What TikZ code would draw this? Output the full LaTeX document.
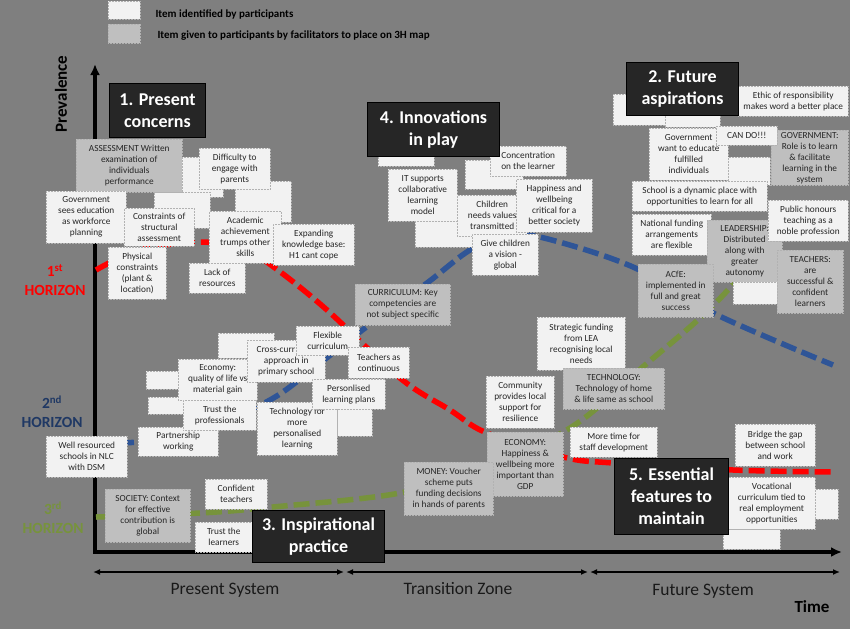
\documentclass[tikz,border=0pt]{standalone}
\usepackage{fontspec}
\setmainfont{Carlito}
\usetikzlibrary{arrows.meta}

\definecolor{bggray}{RGB}{127,127,127}
\definecolor{notewhite}{RGB}{242,242,242}
\definecolor{notegray}{RGB}{191,191,191}
\definecolor{headbg}{RGB}{38,38,38}
\definecolor{hzred}{RGB}{255,0,0}
\definecolor{hzblue}{RGB}{47,85,151}
\definecolor{hzbluetext}{RGB}{31,56,100}
\definecolor{hzgreen}{RGB}{119,147,60}

\begin{document}
\begin{tikzpicture}[x=1pt, y=-1pt,
  note/.style={anchor=north west, inner sep=0pt, align=center, draw=black!30, densely dotted, line width=0.5pt, text=black!85, font=\fontsize{9.3}{11}\selectfont},
  wnote/.style={note, fill=notewhite},
  gnote/.style={note, fill=notegray},
  headbox/.style={anchor=north west, inner sep=0pt, align=center, fill=headbg, draw=black, line width=1pt, text=white, font=\fontsize{18}{22}\selectfont\bfseries},
  hz/.style={align=center, font=\fontsize{15.5}{19}\selectfont\bfseries},
  zonetext/.style={font=\fontsize{17.5}{20}\selectfont, text=black!90},
  trend/.style={line width=5.5pt, dash pattern=on 16pt off 6pt},
  axisline/.style={line width=3.5pt, {Latex[length=11pt,width=10pt]}-{Latex[length=11pt,width=10pt]}},
  zonearrow/.style={line width=1.5pt, {Latex[length=7pt,width=6pt]}-{Latex[length=7pt,width=6pt]}}
]

% --- background ---
\fill[bggray] (0,0) rectangle (850,629);
\useasboundingbox (0,0) rectangle (850,629);

% --- legend ---
\node[wnote, minimum width=32pt, minimum height=18pt] (legw) at (108,1) {};
\node[gnote, minimum width=32pt, minimum height=19pt] (legg) at (108,24) {};
\node[anchor=west, font=\fontsize{11}{13}\selectfont\bfseries] (legwtxt) at (152,14) {Item identified by participants};
\node[anchor=west, font=\fontsize{11}{13}\selectfont\bfseries] (leggtxt) at (154,36) {Item given to participants by facilitators to place on 3H map};

% --- axes and zones ---
\coordinate (ytop) at (95,64);
\coordinate (orig) at (95,552);
\coordinate (xend) at (842,552);
\draw[axisline] (ytop) -- (orig) -- (xend);

\coordinate (zAl) at (93,572);
\coordinate (zAr) at (344,572);
\coordinate (zBl) at (346,572);
\coordinate (zBr) at (588,572);
\coordinate (zCl) at (590,572);
\coordinate (zCr) at (840,572);
\draw[zonearrow] (zAl) -- (zAr);
\draw[zonearrow] (zBl) -- (zBr);
\draw[zonearrow] (zCl) -- (zCr);

\node[zonetext] (present) at (225,590) {Present System};
\node[zonetext] (transition) at (458,589) {Transition Zone};
\node[zonetext] (future) at (703,591) {Future System};
\node[font=\fontsize{17}{20}\selectfont\bfseries] (timelbl) at (812,607) {Time};
\node[rotate=90, font=\fontsize{17}{20}\selectfont\bfseries] (prev) at (61,94) {Prevalence};

% --- horizon labels ---
\node[hz, text=hzred] (hone) at (55,280) {1\textsuperscript{st}\\HORIZON};
\node[hz, text=hzbluetext] (htwo) at (52,412) {2\textsuperscript{nd}\\HORIZON};
\node[hz, text=hzgreen] (hthree) at (53,518) {3\textsuperscript{rd}\\HORIZON};

% --- three horizon curves ---
\draw[trend, hzred] plot[smooth, tension=0.6] coordinates {(96,270) (140,250) (200,242) (245,250) (275,268) (327,310) (400,378) (450,410) (487,433) (563,457) (613,463) (733,470) (833,472)};
\draw[trend, hzblue] plot[smooth, tension=0.6] coordinates {(96,442) (137,442) (200,430) (270,400) (320,363) (373,322) (427,283) (470,250) (505,236) (540,237) (633,267) (713,313) (833,365)};
\draw[trend, hzgreen] plot[smooth, tension=0.6] coordinates {(96,517) (200,513) (273,507) (400,493) (480,468) (570,428) (645,365) (700,318) (735,282) (755,255)};

% --- present concerns ---
\node[wnote, minimum width=56pt, minimum height=40pt] (blankA) at (167,157) {};
\node[wnote, minimum width=56pt, minimum height=36pt] (blankB) at (154,192) {};
\node[wnote, minimum width=56pt, minimum height=41pt] (blankC) at (235,181) {};
\node[gnote, minimum width=106pt, minimum height=53pt] (assess) at (76,139) {ASSESSMENT Written\\examination of\\individuals\\performance};
\node[wnote, minimum width=71pt, minimum height=41pt] (difficulty) at (199,148) {Difficulty to\\engage with\\parents};
\node[wnote, minimum width=80pt, minimum height=52pt] (govsees) at (46,191) {Government\\sees education\\as workforce\\planning};
\node[wnote, minimum width=70pt, minimum height=38pt] (constraints) at (124,208) {Constraints of\\structural\\assessment};
\node[wnote, minimum width=58pt, minimum height=52pt] (physical) at (108,247) {Physical\\constraints\\(plant \&\\location)};
\node[wnote, minimum width=72pt, minimum height=52pt] (academic) at (209,211) {Academic\\achievement\\trumps other\\skills};
\node[wnote, minimum width=81pt, minimum height=41pt] (expanding) at (273,224) {Expanding\\knowledge base:\\H1 cant cope};
\node[wnote, minimum width=56pt, minimum height=30pt] (lackres) at (189,263) {Lack of\\resources};

% --- innovations in play ---
\node[wnote, minimum width=56pt, minimum height=26pt] (blankD) at (378,140) {};
\node[wnote, minimum width=57pt, minimum height=47pt] (blankE) at (415,200) {};
\node[wnote, minimum width=58pt, minimum height=29pt] (blankF) at (465,160) {};
\node[wnote, minimum width=69pt, minimum height=52pt] (itsupports) at (388,169) {IT supports\\collaborative\\learning\\model};
\node[wnote, minimum width=76pt, minimum height=30pt] (concentration) at (490,146) {Concentration\\on the learner};
\node[wnote, minimum width=70pt, minimum height=41pt] (children) at (457,195) {Children\\needs values\\transmitted};
\node[wnote, minimum width=76pt, minimum height=53pt] (happiness) at (516,179) {Happiness and\\wellbeing\\critical for a\\better society};
\node[wnote, minimum width=66pt, minimum height=41pt] (givevision) at (472,234) {Give children\\a vision -\\global};
\node[gnote, minimum width=95pt, minimum height=41pt] (curriculum) at (355,284) {CURRICULUM: Key\\competencies are\\not subject specific};

% --- future aspirations ---
\node[wnote, minimum width=52pt, minimum height=31pt] (blankG) at (613,94) {};
\node[wnote, minimum width=55pt, minimum height=22pt] (blankH) at (665,105) {};
\node[wnote, minimum width=110pt, minimum height=30pt] (ethic) at (738,86) {Ethic of responsibility\\makes word a better place};
\node[wnote, minimum width=79pt, minimum height=52pt] (govwant) at (649,128) {Government\\want to educate\\fulfilled\\individuals};
\node[wnote, minimum width=42pt, minimum height=28pt] (blankI) at (728,157) {};
\node[gnote, minimum width=77pt, minimum height=55pt] (govrole) at (771,130) {GOVERNMENT:\\Role is to learn\\\& facilitate\\learning in the\\system};
\node[wnote, minimum width=61pt, minimum height=19pt] (cando) at (716,126) {CAN DO!!!};
\node[wnote, minimum width=135pt, minimum height=30pt] (dynamic) at (632,181) {School is a dynamic place with\\opportunities to learn for all};
\node[wnote, minimum width=79pt, minimum height=41pt] (national) at (632,214) {National funding\\arrangements\\are flexible};
\node[gnote, minimum width=75pt, minimum height=62pt] (leadership) at (707,220) {LEADERSHIP:\\Distributed\\along with\\greater\\autonomy};
\node[wnote, minimum width=80pt, minimum height=41pt] (honours) at (768,200) {Public honours\\teaching as a\\noble profession};
\node[wnote, minimum width=44pt, minimum height=22pt] (blankJ) at (733,282) {};
\node[gnote, minimum width=66pt, minimum height=63pt] (teachers) at (777,250) {TEACHERS:\\are\\successful \&\\confident\\learners};
\node[gnote, minimum width=75pt, minimum height=53pt] (acfe) at (638,264) {ACfE:\\implemented in\\full and great\\success};

% --- transition zone ---
\node[wnote, minimum width=88pt, minimum height=53pt] (strategic) at (537,317) {Strategic funding\\from LEA\\recognising local\\needs};
\node[gnote, minimum width=101pt, minimum height=41pt] (techhome) at (563,368) {TECHNOLOGY:\\Technology of home\\\& life same as school};
\node[wnote, minimum width=68pt, minimum height=52pt] (community) at (486,376) {Community\\provides local\\support for\\resilience};
\node[gnote, minimum width=76pt, minimum height=64pt] (economy) at (487,432) {ECONOMY:\\Happiness \&\\wellbeing more\\important than\\GDP};
\node[wnote, minimum width=87pt, minimum height=30pt] (moretime) at (570,427) {More time for\\staff development};
\node[gnote, minimum width=89pt, minimum height=53pt] (money) at (404,462) {MONEY: Voucher\\scheme puts\\funding decisions\\in hands of parents};

% --- essential features ---
\node[wnote, minimum width=80pt, minimum height=42pt] (bridge) at (735,424) {Bridge the gap\\between school\\and work};
\node[wnote, minimum width=23pt, minimum height=30pt] (blankK) at (815,489) {};
\node[wnote, minimum width=57pt, minimum height=20pt] (blankL) at (723,529) {};
\node[wnote, minimum width=87pt, minimum height=52pt] (vocational) at (728,477) {Vocational\\curriculum tied to\\real employment\\opportunities};

% --- inspirational practice and second horizon ---
\node[gnote, minimum width=85pt, minimum height=53pt] (society) at (105,489) {SOCIETY: Context\\for effective\\contribution is\\global};
\node[wnote, minimum width=62pt, minimum height=30pt] (confident) at (205,479) {Confident\\teachers};
\node[wnote, minimum width=57pt, minimum height=30pt] (trustlearn) at (195,522) {Trust the\\learners};
\node[wnote, minimum width=81pt, minimum height=41pt] (wellres) at (46,436) {Well resourced\\schools in NLC\\with DSM};
\node[wnote, minimum width=35pt, minimum height=17pt] (blankM) at (148,397) {};
\node[wnote, minimum width=32pt, minimum height=18pt] (blankN) at (146,371) {};
\node[wnote, minimum width=56pt, minimum height=25pt] (blankO) at (218,333) {};
\node[wnote, minimum width=80pt, minimum height=29pt] (partnership) at (138,427) {Partnership\\working};
\node[wnote, minimum width=79pt, minimum height=41pt] (economyq) at (178,359) {Economy:\\quality of life vs\\material gain};
\node[wnote, minimum width=73pt, minimum height=30pt] (trustprof) at (183,400) {Trust the\\professionals};
\node[wnote, minimum width=78pt, minimum height=42pt] (crosscurr) at (247,340) {Cross-curr\phantom{icular}\\approach in\\primary school};
\node[wnote, minimum width=63pt, minimum height=29pt] (flexible) at (296,326) {Flexible\\curriculum};
\node[wnote, minimum width=61pt, minimum height=31pt] (teachcont) at (348,347) {Teachers as\\continuous};
\node[wnote, minimum width=35pt, minimum height=28pt] (blankP) at (337,408) {};
\node[wnote, minimum width=80pt, minimum height=53pt] (techmore) at (257,402) {Technology for\\more\\personalised\\learning};
\node[wnote, minimum width=73pt, minimum height=30pt] (personal) at (312,379) {Personlised\\learning plans};

% --- section titles ---
\node[headbox, minimum width=96pt, minimum height=54pt] (present-concerns) at (109,83) {1. Present\\concerns};
\node[headbox, minimum width=132pt, minimum height=54pt] (innovations) at (367,102) {4. Innovations\\in play};
\node[headbox, minimum width=112pt, minimum height=53pt] (aspirations) at (626,62) {2. Future\\aspirations};
\node[headbox, minimum width=132pt, minimum height=52pt] (inspirational) at (252,510) {3. Inspirational\\practice};
\node[headbox, minimum width=114pt, minimum height=76pt] (essential) at (614,458) {5. Essential\\features to\\maintain};

\end{tikzpicture}
\end{document}
